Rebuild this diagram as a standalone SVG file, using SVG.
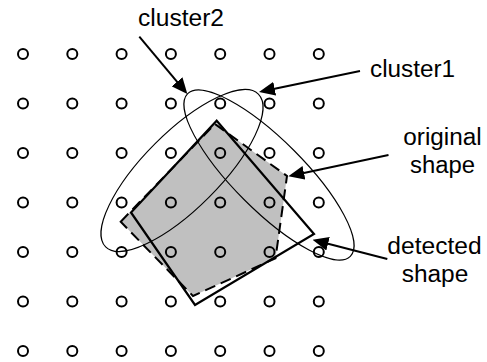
<svg xmlns="http://www.w3.org/2000/svg" xmlns:xlink="http://www.w3.org/1999/xlink" width="487" height="362" viewBox="0 0 487 362">
  <style>
    .dot { fill: none; stroke: #000; stroke-width: 2; }
    .cluster { fill: none; stroke: #000; stroke-width: 1.1; }
    .orig-fill { fill: #c0c0c0; stroke: none; }
    .orig-edge { fill: none; stroke: #000; stroke-width: 2; stroke-dasharray: 11 6; stroke-linejoin: miter; }
    .detected { fill: none; stroke: #000; stroke-width: 2.2; stroke-linejoin: miter; }
    .pointer { fill: none; stroke: #000; stroke-width: 2; marker-end: url(#head); }
    .label { font-family: "Liberation Sans", Arial, sans-serif; font-size: 23px; fill: #000; }
  </style>
  <defs>
    <circle id="pt" r="5" class="dot"/>
    <marker id="head" markerUnits="userSpaceOnUse" markerWidth="16" markerHeight="14" refX="5" refY="7" orient="auto">
      <path d="M0,0 L16,7 L0,14 Z" fill="#000"/>
    </marker>
  </defs>

  <rect width="487" height="362" fill="#fff"/>

  <!-- original shape: grey area -->
  <g id="original-shape">
    <path class="orig-fill" d="M120.7,221.7 L215,124 L287,176 L275.5,258.3 L193,296 Z"/>
  </g>

  <!-- sample grid: 7 x 7 points -->
  <g id="grid">
    <use xlink:href="#pt" x="23" y="54"/><use xlink:href="#pt" x="72.3" y="54"/><use xlink:href="#pt" x="121.6" y="54"/><use xlink:href="#pt" x="170.9" y="54"/><use xlink:href="#pt" x="220.2" y="54"/><use xlink:href="#pt" x="269.5" y="54"/><use xlink:href="#pt" x="318.8" y="54"/>
    <use xlink:href="#pt" x="23" y="103.5"/><use xlink:href="#pt" x="72.3" y="103.5"/><use xlink:href="#pt" x="121.6" y="103.5"/><use xlink:href="#pt" x="170.9" y="103.5"/><use xlink:href="#pt" x="220.2" y="103.5"/><use xlink:href="#pt" x="269.5" y="103.5"/><use xlink:href="#pt" x="318.8" y="103.5"/>
    <use xlink:href="#pt" x="23" y="153"/><use xlink:href="#pt" x="72.3" y="153"/><use xlink:href="#pt" x="121.6" y="153"/><use xlink:href="#pt" x="170.9" y="153"/><use xlink:href="#pt" x="220.2" y="153"/><use xlink:href="#pt" x="269.5" y="153"/><use xlink:href="#pt" x="318.8" y="153"/>
    <use xlink:href="#pt" x="23" y="202.5"/><use xlink:href="#pt" x="72.3" y="202.5"/><use xlink:href="#pt" x="121.6" y="202.5"/><use xlink:href="#pt" x="170.9" y="202.5"/><use xlink:href="#pt" x="220.2" y="202.5"/><use xlink:href="#pt" x="269.5" y="202.5"/><use xlink:href="#pt" x="318.8" y="202.5"/>
    <use xlink:href="#pt" x="23" y="252"/><use xlink:href="#pt" x="72.3" y="252"/><use xlink:href="#pt" x="121.6" y="252"/><use xlink:href="#pt" x="170.9" y="252"/><use xlink:href="#pt" x="220.2" y="252"/><use xlink:href="#pt" x="269.5" y="252"/><use xlink:href="#pt" x="318.8" y="252"/>
    <use xlink:href="#pt" x="23" y="301.5"/><use xlink:href="#pt" x="72.3" y="301.5"/><use xlink:href="#pt" x="121.6" y="301.5"/><use xlink:href="#pt" x="170.9" y="301.5"/><use xlink:href="#pt" x="220.2" y="301.5"/><use xlink:href="#pt" x="269.5" y="301.5"/><use xlink:href="#pt" x="318.8" y="301.5"/>
    <use xlink:href="#pt" x="23" y="351"/><use xlink:href="#pt" x="72.3" y="351"/><use xlink:href="#pt" x="121.6" y="351"/><use xlink:href="#pt" x="170.9" y="351"/><use xlink:href="#pt" x="220.2" y="351"/><use xlink:href="#pt" x="269.5" y="351"/><use xlink:href="#pt" x="318.8" y="351"/>
  </g>

  <!-- clusters -->
  <g id="cluster1">
    <ellipse class="cluster" cx="182" cy="170.5" rx="108" ry="38" transform="rotate(-45 182 170.5)"/>
  </g>
  <g id="cluster2">
    <ellipse class="cluster" cx="269" cy="175" rx="115" ry="35" transform="rotate(45 269 175)"/>
  </g>

  <!-- outlines -->
  <g id="original-outline">
    <path class="orig-edge" d="M120.7,221.7 L215,124 L287,176 L275.5,258.3 L193,296 Z"/>
  </g>
  <g id="detected-shape">
    <path class="detected" d="M216.7,120.7 L314,234 L195,305 L131,212.5 Z"/>
  </g>

  <!-- label pointers -->
  <g id="connectors">
    <line class="pointer" x1="139.3" y1="36.7" x2="180.3" y2="85.6"/>
    <line class="pointer" x1="360" y1="71" x2="269.8" y2="89.7"/>
    <line class="pointer" x1="388.5" y1="155" x2="299.1" y2="173.9"/>
    <line class="pointer" x1="387.3" y1="259" x2="323.2" y2="242.5"/>
  </g>

  <!-- labels -->
  <g id="labels">
    <text class="label" x="138" y="26" textLength="86" lengthAdjust="spacingAndGlyphs">cluster2</text>
    <text class="label" x="370" y="77" textLength="85" lengthAdjust="spacingAndGlyphs">cluster1</text>
    <text class="label" x="403.3" y="145" textLength="78.4" lengthAdjust="spacingAndGlyphs">original</text>
    <text class="label" x="410" y="173.3" textLength="65" lengthAdjust="spacingAndGlyphs">shape</text>
    <text class="label" x="387.3" y="254" textLength="94.4" lengthAdjust="spacingAndGlyphs">detected</text>
    <text class="label" x="401.7" y="281.7" textLength="66.6" lengthAdjust="spacingAndGlyphs">shape</text>
  </g>
</svg>
